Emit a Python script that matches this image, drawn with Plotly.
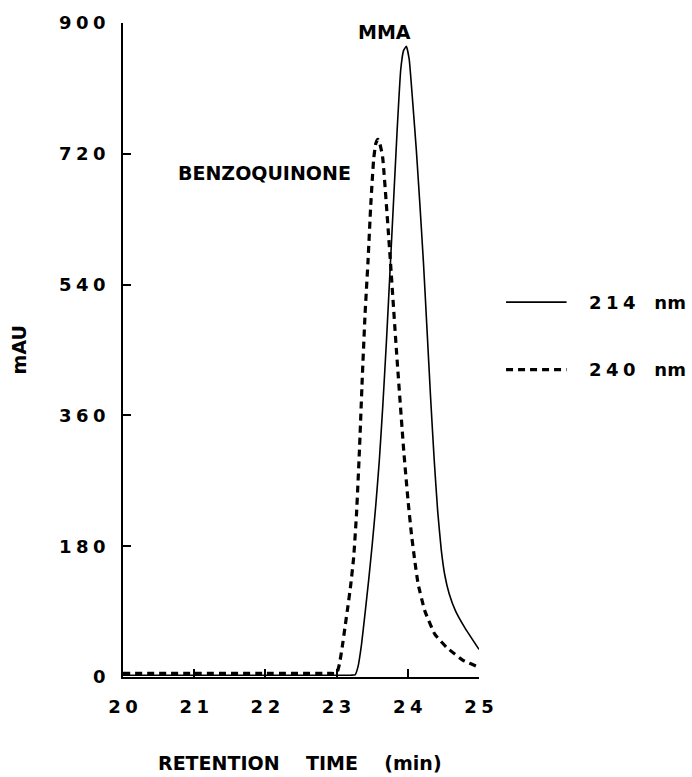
import plotly.graph_objects as go

# ---- data ----
t_214 = [20.0, 21.0, 22.0, 23.0, 23.2, 23.26, 23.30, 23.35, 23.40, 23.45,
         23.50, 23.55, 23.60, 23.65, 23.70, 23.75, 23.80, 23.85, 23.90, 23.94,
         23.98, 24.02, 24.07, 24.12, 24.17, 24.22, 24.27, 24.32, 24.37, 24.42,
         24.47, 24.52, 24.58, 24.67, 24.80, 25.0]
mau_214 = [2.5, 2.5, 2.5, 2.5, 2.5, 3, 14, 45, 88, 133,
           182, 236, 298, 375, 462, 558, 655, 752, 835, 862,
           868, 850, 790, 725, 650, 570, 478, 385, 300, 228,
           175, 140, 115, 91, 68, 38]

t_240 = [20.0, 21.0, 22.0, 22.9, 23.0, 23.04, 23.08, 23.12, 23.16, 23.20,
         23.24, 23.28, 23.32, 23.36, 23.40, 23.44, 23.48, 23.52, 23.55, 23.58,
         23.61, 23.646, 23.748, 23.842, 23.944, 24.005, 24.052, 24.098, 24.145, 24.239,
         24.379, 24.543, 24.776, 24.986, 25.0]
mau_240 = [5, 5, 5, 5, 5, 18, 42, 70, 98, 128,
           165, 225, 310, 410, 500, 570, 650, 712, 734, 740,
           733, 716, 583, 447, 310, 241, 196, 160, 128, 91,
           59, 41, 23, 14, 13]

x_ticks = [20, 21, 22, 23, 24, 25]
x_ticktext = ["2\u20050", "2\u20051", "2\u20052", "2\u20053", "2\u20054", "2\u20055"]
y_ticks = [0, 180, 360, 540, 720, 900]
y_ticktext = ["0", "1\u20058\u20050", "3\u20056\u20050", "5\u20054\u20050", "7\u20052\u20050", "9\u20050\u20050"]

series_names = ["2\u20051\u20054\u00a0\u00a0\u00a0nm", "2\u20054\u20050\u00a0\u00a0\u00a0nm"]
peak_labels = ["MMA", "BENZOQUINONE"]

FONT = "DejaVu Sans"

fig = go.Figure()
fig.add_trace(go.Scatter(x=t_214, y=mau_214, mode="lines",
                         line=dict(color="black", width=1.6, shape="spline", smoothing=0.4),
                         name=series_names[0], showlegend=False))
fig.add_trace(go.Scatter(x=t_240, y=mau_240, mode="lines",
                         line=dict(color="black", width=3.2, dash="7px,5px",
                                   shape="spline", smoothing=0.4),
                         name=series_names[1], showlegend=False))

tick_font = dict(family=FONT, size=18, color="black", weight="bold")
lab_font = dict(family=FONT, size=19, color="black", weight="bold")

fig.update_xaxes(range=[20, 25], tickvals=x_ticks, ticktext=x_ticktext,
                 showline=True, linecolor="black", linewidth=1.5,
                 ticks="inside", ticklen=8, tickwidth=1.5, tickcolor="black",
                 showgrid=False, zeroline=False, tickfont=tick_font,
                 ticklabelstandoff=13)
fig.update_yaxes(range=[0, 900], tickvals=y_ticks, ticktext=y_ticktext,
                 showline=True, linecolor="black", linewidth=1.5,
                 ticks="inside", ticklen=8, tickwidth=1.5, tickcolor="black",
                 showgrid=False, zeroline=False, tickfont=tick_font,
                 ticklabelstandoff=12)

# legend drawn manually to match the original layout
legend_rows = [(0.5732, "solid", 1.6), (0.4699, "dash", 3.2)]
for (yy, dash, w), name in zip(legend_rows, series_names):
    fig.add_shape(type="line", xref="paper", yref="paper",
                  x0=1.076, x1=1.246, y0=yy, y1=yy,
                  line=dict(color="black", width=w,
                            dash="7px,5px" if dash == "dash" else "solid"))
    fig.add_annotation(xref="paper", yref="paper", x=1.303, y=yy,
                       xanchor="left", yanchor="middle", showarrow=False,
                       text=name, font=tick_font)

fig.add_annotation(x=23.678, y=888, text=peak_labels[0], showarrow=False,
                   xanchor="center", yanchor="middle", font=lab_font)
fig.add_annotation(x=23.235, y=693, text=peak_labels[1], showarrow=False,
                   xanchor="right", yanchor="middle", font=lab_font)

# axis titles
fig.add_annotation(xref="paper", yref="paper", x=-0.291, y=0.5, text="mAU",
                   textangle=-90, showarrow=False, xanchor="center", yanchor="middle",
                   font=lab_font)
fig.add_annotation(xref="paper", yref="paper", x=0.498, y=-0.1316,
                   text="RETENTION\u00a0\u00a0\u00a0\u00a0TIME\u00a0\u00a0\u00a0\u00a0(min)",
                   showarrow=False, xanchor="center", yanchor="middle", font=lab_font)

fig.update_layout(width=692, height=777, autosize=False,
                  margin=dict(l=122.7, r=212.7, t=18.3, b=100.3, pad=0),
                  paper_bgcolor="white", plot_bgcolor="white",
                  showlegend=False)

fig.write_html("out.html")
